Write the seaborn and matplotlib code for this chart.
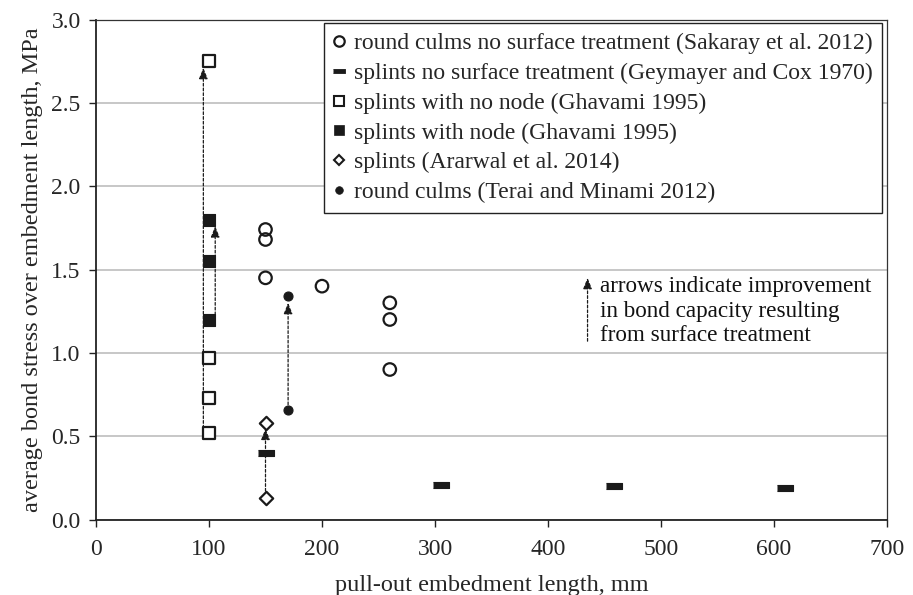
import matplotlib
matplotlib.use("Agg")
import matplotlib.pyplot as plt
from matplotlib.lines import Line2D
import seaborn as sns
import numpy as np

# ---- data ----
sak_x = [150, 150, 150, 200, 260, 260, 260]
sak_y = [1.74, 1.68, 1.45, 1.40, 1.30, 1.20, 0.90]
gey_x = [150, 305, 458, 610]
gey_y = [0.40, 0.21, 0.20, 0.19]
nonode_x = [100, 100, 100, 100]
nonode_y = [2.75, 0.97, 0.73, 0.52]
node_x = [100, 100, 100]
node_y = [1.80, 1.55, 1.20]
agr_x = [150, 150]
agr_y = [0.58, 0.13]
ter_x = [170, 170]
ter_y = [1.34, 0.66]

labels = [
    "round culms no surface treatment (Sakaray et al. 2012)",
    "splints no surface treatment (Geymayer and Cox 1970)",
    "splints with no node (Ghavami 1995)",
    "splints with node (Ghavami 1995)",
    "splints (Ararwal et al. 2014)",
    "round culms (Terai and Minami 2012)",
]
note = "arrows indicate improvement\nin bond capacity resulting\nfrom surface treatment"
xticks = [0, 100, 200, 300, 400, 500, 600, 700]
yticks = [0.0, 0.5, 1.0, 1.5, 2.0, 2.5, 3.0]

sns.set_theme(style="white")
plt.rcParams['font.family'] = ['Liberation Serif', 'DejaVu Serif']
FS = 17
FL = 17.5
FN = 16.7

fig = plt.figure(figsize=(9.13, 5.95), dpi=100)
ax = fig.add_axes([96/913, 1 - 519.5/595, 791/913, 500/595])

dash = [(-1, -0.34), (1, -0.34), (1, 0.34), (-1, 0.34)]

sns.scatterplot(x=sak_x, y=sak_y, marker='o', s=9.0**2, facecolor='none',
                edgecolor='k', linewidth=1.6, ax=ax, zorder=5)
sns.scatterplot(x=gey_x, y=gey_y, marker=dash, s=11.5**2, color='k',
                edgecolor='k', linewidth=0.8, ax=ax, zorder=5)
sns.scatterplot(x=nonode_x, y=nonode_y, marker='s', s=8.0**2, facecolor='white',
                edgecolor='k', linewidth=1.6, ax=ax, zorder=5)
sns.scatterplot(x=node_x, y=node_y, marker='s', s=8.5**2, color='k',
                edgecolor='k', linewidth=0.8, ax=ax, zorder=5)
sns.scatterplot(x=agr_x, y=agr_y, marker='D', s=6.8**2, facecolor='white',
                edgecolor='k', linewidth=1.6, ax=ax, zorder=5)
sns.scatterplot(x=ter_x, y=ter_y, marker='o', s=6.5**2, color='k',
                edgecolor='k', linewidth=0.8, ax=ax, zorder=5)

# ---- improvement arrows ----
def arrow(x, y0, y1):
    ax.annotate('', xy=(x, y1), xytext=(x, y0),
                arrowprops=dict(arrowstyle='-|>,head_length=0.55,head_width=0.22',
                                linestyle=(0, (2.2, 1.6)), lw=0.9, color='k',
                                shrinkA=0, shrinkB=0), zorder=4)

arrow(95, min(nonode_y), max(nonode_y) - 0.04)
arrow(105.5, min(node_y), max(node_y) - 0.04)
arrow(170, min(ter_y), max(ter_y) - 0.04)
arrow(150, min(agr_y) + 0.04, max(agr_y) - 0.035)
arrow(435, 1.07, 1.45)
ax.text(446, 1.25, note, fontsize=FN, ha='left', va='center',
        linespacing=1.22, color='#111111')

# ---- axes ----
ax.set_xlim(0, 700)
ax.set_ylim(0, 3.0)
ax.set_xticks(xticks)
ax.set_yticks(yticks)
ax.set_xticklabels([str(v) for v in xticks], fontsize=FS)
ax.set_yticklabels([f"{v:.1f}" for v in yticks], fontsize=FS)
ax.yaxis.grid(True, color='#b8b8b8', lw=1.1)
ax.xaxis.grid(False)
ax.set_axisbelow(True)
for s in ['left', 'bottom']:
    ax.spines[s].set_color('#222222')
    ax.spines[s].set_linewidth(1.3)
for s in ['top', 'right']:
    ax.spines[s].set_color('#333333')
    ax.spines[s].set_linewidth(0.9)
ax.tick_params(axis='both', direction='out', length=5, width=1, color='#222222',
               pad=6, bottom=True, left=True)
ax.tick_params(axis='x', pad=9)
ax.set_xlabel("pull-out embedment length, mm", fontsize=FL, labelpad=11)
ax.set_ylabel("average bond stress over embedment length, MPa", fontsize=FL, labelpad=6)

# ---- legend ----
handles = [
    Line2D([], [], ls='', marker='o', ms=7.5, mfc='none', mec='k', mew=1.6),
    Line2D([], [], ls='', marker=dash, ms=9, mfc='k', mec='k', mew=0.6),
    Line2D([], [], ls='', marker='s', ms=7, mfc='white', mec='k', mew=1.5),
    Line2D([], [], ls='', marker='s', ms=7.5, mfc='k', mec='k', mew=0.5),
    Line2D([], [], ls='', marker='D', ms=5.5, mfc='white', mec='k', mew=1.5),
    Line2D([], [], ls='', marker='o', ms=5.5, mfc='k', mec='k', mew=0.5),
]
leg = ax.legend(handles, labels, loc='upper right', bbox_to_anchor=(0.9937, 0.993),
                borderaxespad=0, fontsize=FS, frameon=True, fancybox=False,
                handlelength=0.45, handletextpad=0.38, labelspacing=0.35,
                borderpad=0.41)
leg.get_frame().set_edgecolor('#222222')
leg.get_frame().set_linewidth(1.0)
leg.get_frame().set_alpha(1)

fig.savefig("out.png", dpi=100)
